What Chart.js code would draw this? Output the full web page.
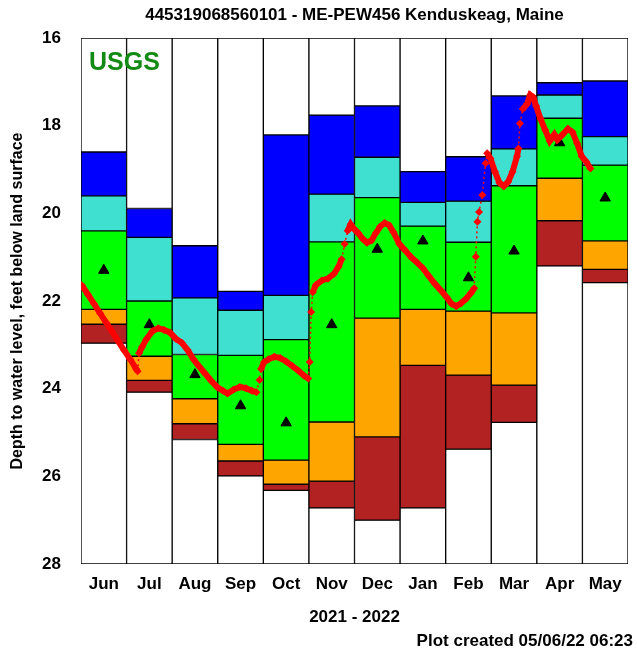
<!DOCTYPE html>
<html>
<head>
<meta charset="utf-8">
<script src="https://cdn.jsdelivr.net/npm/chart.js@4/dist/chart.umd.min.js"></script>
<style>
  body { margin: 0; background: #fff; }
  #wrap { width: 637px; height: 653px; }
</style>
</head>
<body>
<div id="wrap"><canvas id="gwChart" width="637" height="653"></canvas></div>
<script>
// Mesi (colonne) e livelli percentili, piedi sotto il piano campagna
const months = ['Jun', 'Jul', 'Aug', 'Sep', 'Oct', 'Nov', 'Dec', 'Jan', 'Feb', 'Mar', 'Apr', 'May'];
const levelMax = [18.60, 19.89, 20.74, 21.78, 18.21, 17.76, 17.55, 19.05, 18.71, 17.32, 17.02, 16.98];
const level90  = [19.60, 20.55, 21.93, 22.21, 21.87, 19.56, 18.72, 19.75, 19.72, 18.53, 17.30, 18.25];
const level75  = [20.40, 22.00, 23.22, 23.24, 22.88, 20.65, 19.64, 20.29, 20.66, 19.37, 17.83, 18.90];
const level25  = [22.19, 23.26, 24.23, 25.27, 25.63, 24.76, 22.39, 22.19, 22.23, 22.27, 19.20, 20.63];
const level10  = [22.53, 23.81, 24.80, 25.65, 26.18, 26.11, 25.10, 23.47, 23.69, 23.92, 20.17, 21.28];
const levelMin = [22.96, 24.08, 25.16, 25.99, 26.32, 26.72, 27.00, 26.72, 25.38, 24.77, 21.20, 21.58];
const medians  = [21.30, 22.54, 23.68, 24.39, 24.78, 22.54, 20.82, 20.63, 21.47, 20.86, 18.39, 19.65];

const yTop = 16;
const yBottom = 28;

// Valori giornalieri
const dailyDates = [
  '2021-06-01','2021-06-05','2021-06-09','2021-06-13','2021-06-17','2021-06-21','2021-06-25','2021-06-29',
  '2021-07-03','2021-07-07','2021-07-08','2021-07-09','2021-07-11','2021-07-14','2021-07-18','2021-07-22','2021-07-26','2021-07-30',
  '2021-08-03','2021-08-07','2021-08-11','2021-08-15','2021-08-19','2021-08-23','2021-08-27','2021-08-31',
  '2021-09-04','2021-09-07','2021-09-11','2021-09-15','2021-09-19','2021-09-23','2021-09-26','2021-09-28','2021-09-29',
  '2021-10-01','2021-10-04','2021-10-08','2021-10-12','2021-10-16','2021-10-20','2021-10-24','2021-10-28','2021-10-31',
  '2021-11-01','2021-11-02','2021-11-03','2021-11-05','2021-11-09','2021-11-13','2021-11-17','2021-11-20','2021-11-22','2021-11-24','2021-11-26','2021-11-28','2021-11-30',
  '2021-12-03','2021-12-06','2021-12-09','2021-12-12','2021-12-15','2021-12-18','2021-12-21','2021-12-24','2021-12-27','2021-12-31',
  '2022-01-04','2022-01-08','2022-01-12','2022-01-16','2022-01-20','2022-01-24','2022-01-28',
  '2022-02-01','2022-02-04','2022-02-07','2022-02-10','2022-02-13','2022-02-16','2022-02-18','2022-02-19','2022-02-20','2022-02-21','2022-02-23','2022-02-25','2022-02-26','2022-02-28',
  '2022-03-03','2022-03-06','2022-03-09','2022-03-12','2022-03-15','2022-03-18','2022-03-19','2022-03-20','2022-03-22','2022-03-25','2022-03-27','2022-03-29','2022-03-31',
  '2022-04-03','2022-04-06','2022-04-09','2022-04-12','2022-04-14','2022-04-17','2022-04-21','2022-04-24','2022-04-27','2022-04-30',
  '2022-05-03','2022-05-06'
];
const dailyDepths = [
  21.64, 21.85, 22.06, 22.28, 22.49, 22.70, 22.92, 23.13,
  23.33, 23.55, 23.60, 23.19, 23.05, 22.87, 22.69, 22.62, 22.66, 22.72,
  22.86, 22.95, 23.12, 23.33, 23.50, 23.66, 23.82, 23.96,
  24.05, 24.11, 24.02, 23.96, 23.99, 24.05, 24.08, 23.80, 23.55,
  23.40, 23.33, 23.27, 23.30, 23.38, 23.48, 23.58, 23.70, 23.77,
  23.39, 22.25, 21.80, 21.64, 21.53, 21.49, 21.38, 21.22, 21.05, 20.70, 20.40, 20.25, 20.35,
  20.45, 20.58, 20.67, 20.62, 20.45, 20.30, 20.22, 20.27, 20.43, 20.70,
  20.85, 21.00, 21.12, 21.25, 21.43, 21.60, 21.75,
  21.91, 22.06, 22.12, 22.05, 21.95, 21.82, 21.71, 20.99, 20.19, 19.97, 19.58, 18.86, 18.63, 18.75,
  19.05, 19.30, 19.38, 19.28, 19.05, 18.70, 18.52, 17.95, 17.62, 17.50, 17.30, 17.35, 17.55,
  17.85, 18.10, 18.35, 18.20, 18.32, 18.22, 18.07, 18.15, 18.40, 18.70,
  18.82, 18.98
];

// Posizione della data lungo l'asse dei mesi (0 = inizio giugno 2021)
function datePosition(str) {
  const [y, m, d] = str.split('-').map(Number);
  const idx = (y - 2021) * 12 + (m - 1) - 5;
  const days = new Date(y, m, 0).getDate();
  return idx + (d - 0.5) / days;
}

const FONT = "'Liberation Sans', Arial, sans-serif";

function band(from, to) {
  return months.map((_, i) => [from[i], to[i]]);
}

const bandColors = ['#ffffff', '#0000ff', '#40e0d0', '#00ff00', '#ffa500', '#b22222', '#ffffff'];
const bandData = [
  band(months.map(() => yTop), levelMax),
  band(levelMax, level90),
  band(level90, level75),
  band(level75, level25),
  band(level25, level10),
  band(level10, levelMin),
  band(levelMin, months.map(() => yBottom))
];

const barDatasets = bandData.map((data, k) => ({
  type: 'bar',
  data: data,
  backgroundColor: bandColors[k],
  borderColor: '#000',
  borderWidth: 1,
  borderSkipped: false,
  grouped: false,
  barPercentage: 1,
  categoryPercentage: 1,
  order: 10
}));

// Salto rapido tra due letture: linea tratteggiata sottile
function isJump(c) {
  const dx = Math.abs(c.p1.x - c.p0.x), dy = Math.abs(c.p1.y - c.p0.y);
  return dy > 9 && dy > 4 * dx;
}

// Testi: titolo, logo USGS, data di creazione
const textPlugin = {
  id: 'texts',
  afterDraw(chart) {
    const ctx = chart.ctx;
    const area = chart.chartArea;
    ctx.save();
    ctx.fillStyle = '#000';
    ctx.font = 'bold 17px ' + FONT;
    ctx.textAlign = 'center';
    ctx.textBaseline = 'middle';
    ctx.fillText('445319068560101 - ME-PEW456 Kenduskeag, Maine', (area.left + area.right) / 2, 15);
    ctx.textAlign = 'right';
    ctx.fillText('Plot created 05/06/22 06:23', 633, 641);
    ctx.fillStyle = '#138a13';
    ctx.font = 'bold 25px ' + FONT;
    ctx.textAlign = 'left';
    ctx.textBaseline = 'alphabetic';
    ctx.fillText('USGS', area.left + 8, 70);
    ctx.restore();
  }
};

const ctx = document.getElementById('gwChart').getContext('2d');
new Chart(ctx, {
  type: 'bar',
  data: {
    labels: months,
    datasets: [
      ...barDatasets,
      {
        type: 'line',
        data: medians,
        showLine: false,
        pointStyle: 'triangle',
        pointRadius: 6,
        pointBackgroundColor: '#000',
        pointBorderColor: '#000',
        pointBorderWidth: 1,
        order: 5
      },
      {
        type: 'line',
        xAxisID: 'x2',
        data: dailyDates.map((d, i) => ({ x: datePosition(d), y: dailyDepths[i] })),
        borderColor: '#ff0000',
        backgroundColor: '#ff0000',
        pointStyle: 'rectRot',
        pointRadius: 4,
        pointBorderWidth: 0,
        pointBackgroundColor: '#ff0000',
        tension: 0,
        segment: {
          borderWidth: c => isJump(c) ? 1.5 : 6,
          borderDash: c => isJump(c) ? [2, 3] : []
        },
        order: 0
      }
    ]
  },
  options: {
    responsive: false,
    animation: false,
    layout: { padding: { top: 38, right: 9, left: 0, bottom: 0 } },
    plugins: {
      legend: { display: false },
      tooltip: { enabled: false }
    },
    scales: {
      x: {
        type: 'category',
        offset: true,
        grid: { display: false },
        border: { display: false },
        ticks: { color: '#000', font: { family: FONT, size: 17, weight: 'bold' }, padding: 2 },
        title: { display: true, text: '2021 - 2022', color: '#000', font: { family: FONT, size: 17, weight: 'bold' }, padding: { top: 0, bottom: 25 } },
        afterFit: s => { s.height = 89; }
      },
      x2: {
        type: 'linear',
        display: false,
        offset: false,
        min: 0,
        max: 12
      },
      y: {
        type: 'linear',
        reverse: true,
        min: yTop,
        max: yBottom,
        grid: { display: false },
        border: { display: false },
        ticks: { stepSize: 2, color: '#000', font: { family: FONT, size: 17, weight: 'bold' }, padding: 12 },
        title: { display: true, text: 'Depth to water level, feet below land surface', color: '#000', font: { family: FONT, size: 16, weight: 'bold' }, padding: { top: 8, bottom: 0 } },
        afterFit: s => { s.width = 81; }
      }
    }
  },
  plugins: [textPlugin]
});
</script>
</body>
</html>
